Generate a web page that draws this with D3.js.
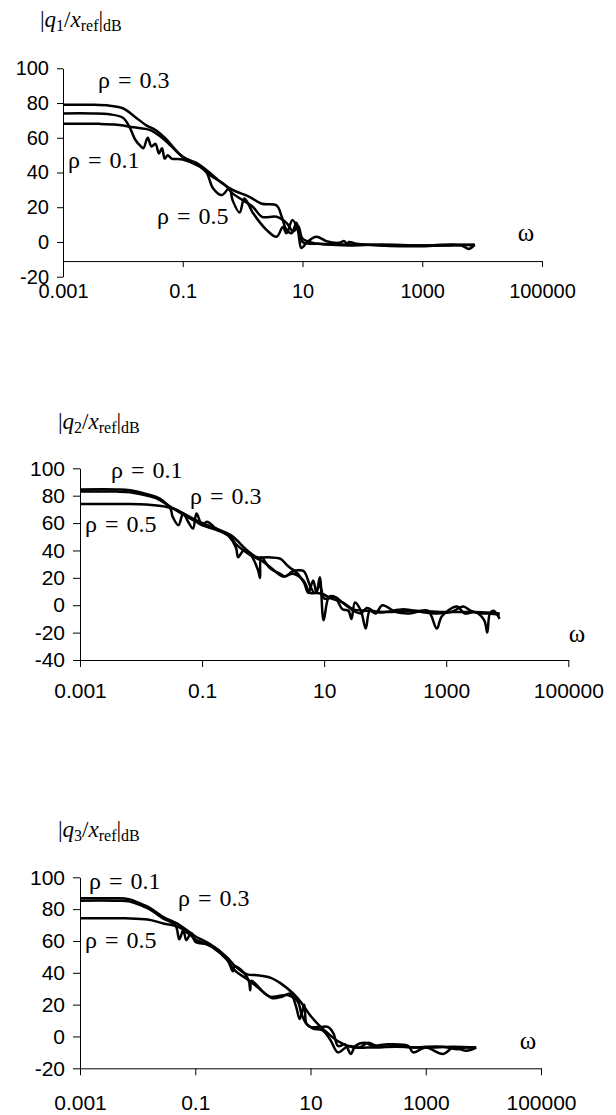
<!DOCTYPE html>
<html>
<head>
<meta charset="utf-8">
<script src="https://cdn.jsdelivr.net/npm/d3@7"></script>
<style>
  body { margin: 0; background: #fff; }
  svg { display: block; }
</style>
</head>
<body>
<div id="chart"></div>
<script>
// x axis ticks (omega, log scale) shared by the three panels
const omegaTicks = [0.001, 0.1, 10, 1000, 100000];
const omegaTickLabels = ['0.001', '0.1', '10', '1000', '100000'];
const dbTicks1 = [-20, 0, 20, 40, 60, 80, 100];
const dbTicks2 = [-40, -20, 0, 20, 40, 60, 80, 100];
const dbTicks3 = [-20, 0, 20, 40, 60, 80, 100];
const rhoLabels = ['ρ = 0.1', 'ρ = 0.3', 'ρ = 0.5'];

// |q1/xref| dB, pairs of [omega, dB]
const q1Rho01 = [[0.001,74],[0.003,74],[0.006,73.5],[0.01,71.5],[0.013,66],[0.016,59],[0.02,55],[0.022,54],[0.026,60],[0.03,55],[0.035,56.5],[0.04,51],[0.045,54],[0.05,48],[0.056,50],[0.065,48],[0.1,47.5],[0.19,43.5],[0.25,40],[0.32,31],[0.45,27],[0.6,31],[0.68,24],[0.89,17],[1.07,25],[1.5,16.5],[2.5,7],[3.7,3],[4.7,8.6],[5.4,5],[6.8,12.6],[8.3,7],[9.6,-3.5],[12,0],[17,3],[25,0.5],[40,-0.5],[50,0.5],[55,-1],[60,0],[80,-1],[200,-2],[1000,-2.5],[4500,-2],[6000,-4],[7500,-1.5]];
const q1Rho03 = [[0.001,79],[0.003,79],[0.006,78.5],[0.01,77],[0.016,72],[0.025,67],[0.035,64.5],[0.05,60],[0.1,49],[0.18,45],[0.28,40],[0.45,34],[0.68,30],[1.3,26],[2.1,22],[3.7,21],[4.5,14.5],[5.4,7],[6.6,5],[7.9,11],[8.9,5],[10,0],[13,-1],[20,-1],[50,-1.5],[100,-1.5],[300,-2],[1000,-2],[3000,-2],[7500,-1.5]];
const q1Rho05 = [[0.001,68],[0.004,68],[0.008,67.5],[0.015,66],[0.028,64.5],[0.045,60],[0.065,55],[0.1,49],[0.19,44],[0.3,38],[0.5,33],[0.68,28],[1.5,20],[2.1,14.5],[3.7,14.5],[5.4,11],[7,6],[8.5,9],[10,2],[15,-0.5],[25,-1.5],[60,-2],[200,-1.5],[1000,-2],[3000,-1.5],[7500,-2]];

// |q2/xref| dB
const q2Rho01 = [[0.001,84.6],[0.004,84.6],[0.0066,84],[0.014,80.5],[0.02,78],[0.03,72],[0.05,66],[0.08,61],[0.1,58.5],[0.17,55],[0.29,50],[0.37,44],[0.6,37],[0.9,33],[1.3,28],[2.1,21],[3.1,23],[4.6,18],[5.9,9],[7.7,9],[9.6,8],[13,5],[20,2],[30,-3],[50,-4],[100,-5],[300,-4],[1000,-5],[3000,-5],[7500,-6]];
const q2Rho03 = [[0.001,83],[0.004,83],[0.0066,82.5],[0.014,79.5],[0.02,77],[0.03,71],[0.033,64.6],[0.041,58.5],[0.049,67],[0.059,61],[0.071,56],[0.081,67],[0.1,58.5],[0.12,61],[0.17,56],[0.28,50],[0.36,42],[0.39,35],[0.48,40],[0.6,38],[0.82,26],[0.89,19.9],[0.93,35],[1.3,27],[1.9,23],[2.3,21],[3.2,25],[4.6,17],[5.5,9],[6.6,18],[7.5,9],[8.5,20.5],[9.8,-11],[12,6],[15,6],[20,-3],[25,-4],[28,-10],[32,2],[40,-4],[48,-17],[56,-4],[70,-6],[90,0],[150,-5],[250,-6],[500,-4],[700,-17],[850,-8],[1500,-1],[2000,-6],[3000,-5],[4200,-11],[4700,-20],[5200,-6],[6000,-4],[7500,-10]];
const q2Rho05 = [[0.001,73.9],[0.006,73.9],[0.012,73.5],[0.025,72],[0.035,70.5],[0.05,67],[0.08,62],[0.15,57],[0.3,51],[0.55,40],[0.8,35],[1.2,35],[1.9,34],[2.5,29],[3.2,25.6],[4.6,25],[5.9,14],[7,9],[8.5,14],[10,5],[12,5],[15,6],[20,2],[30,-4],[40,-6],[50,-2],[70,-5],[100,-5],[200,-3],[400,-5],[700,-6],[1200,-5],[1900,-1],[2500,-4],[3500,-6],[5000,-6],[7500,-7]];

// |q3/xref| dB
const q3Rho01 = [[0.001,86.8],[0.004,86.8],[0.007,86.3],[0.012,83],[0.016,81],[0.028,75],[0.048,71],[0.07,67],[0.1,63],[0.18,58],[0.35,50],[0.5,44],[0.8,39],[1.2,38.5],[2,37],[3,33.5],[5,27],[7,21],[10,13],[15,6],[20,2],[30,-3],[50,-6.5],[100,-7],[300,-6.5],[1000,-7],[3000,-6.5],[7500,-7]];
const q3Rho03 = [[0.001,85.3],[0.004,85.3],[0.007,85],[0.012,82],[0.016,80],[0.028,74],[0.045,70],[0.053,61],[0.062,67],[0.07,60.5],[0.085,65],[0.1,59.5],[0.18,57.5],[0.35,49],[0.45,41],[0.48,44],[0.7,40],[0.85,35],[0.9,29],[0.95,35],[1.6,27],[2.2,24],[3.2,25],[4.5,27],[5.6,19],[6.5,11],[7.8,20],[8.5,8],[10,6],[15,6],[20,6],[25,2],[30,-6],[40,-5],[50,-11],[60,-6],[90,-4],[120,-6],[200,-5],[500,-6],[600,-10],[1000,-7],[2000,-11],[3000,-7],[5000,-9],[7500,-7]];
const q3Rho05 = [[0.001,74.2],[0.006,74.2],[0.015,73.5],[0.028,71],[0.05,69],[0.08,64],[0.1,61],[0.2,56],[0.35,48.5],[0.5,41],[0.8,36],[1.3,30],[2,25],[2.8,25.5],[4,26],[6,22],[7,14],[8.5,8],[11,5],[16,4],[22,-2],[30,-10],[45,-6],[70,-7],[100,-4],[150,-6.5],[300,-6],[600,-7],[1000,-6.5],[2000,-6.5],[3600,-8],[5000,-7],[7500,-7]];

const width = 616, height = 1115;
const serif = '"Liberation Serif", "Times New Roman", Times, serif';
const sans = '"Liberation Sans", Arial, sans-serif';

const svg = d3.select('#chart')
  .append('svg')
    .attr('width', width)
    .attr('height', height)
    .attr('viewBox', `0 0 ${width} ${height}`);

const panels = [
  {
    sub: '1', series: [q1Rho01, q1Rho03, q1Rho05], dbTicks: dbTicks1,
    x0: 63, x1: 542, yTop: 68.3, yBot: 276.7, domain: [-20, 100], crossAt: -11,
    fs: 20, tick: 6, xLabelOff: 37, title: [40, 27], omega: [526, 241],
    rho: [[68, 168], [98, 88], [157, 224]]
  },
  {
    sub: '2', series: [q2Rho01, q2Rho03, q2Rho05], dbTicks: dbTicks2,
    x0: 80, x1: 568.3, yTop: 468.3, yBot: 660, domain: [-40, 100], crossAt: -40,
    fs: 21, tick: 7, xLabelOff: 38, title: [58, 429], omega: [577, 642],
    rho: [[111, 478], [190, 504], [85, 532]]
  },
  {
    sub: '3', series: [q3Rho01, q3Rho03, q3Rho05], dbTicks: dbTicks3,
    x0: 80, x1: 541, yTop: 877.3, yBot: 1068.3, domain: [-20, 100], crossAt: -20,
    fs: 21, tick: 7, xLabelOff: 42, title: [58, 837], omega: [528, 1049],
    rho: [[89, 889], [178, 906], [85, 948]]
  }
];

panels.forEach(p => {
  const x = d3.scaleLog()
    .domain([0.001, 100000])
    .range([p.x0, p.x1]);

  const y = d3.scaleLinear()
    .domain(p.domain)
    .range([p.yBot, p.yTop]);

  const g = svg.append('g');

  // y axis, plain hyphen for negatives like the original
  const yAxis = g.append('g')
    .attr('transform', `translate(${p.x0},0)`)
    .call(d3.axisLeft(y)
      .tickValues(p.dbTicks)
      .tickFormat(d => String(d))
      .tickSize(p.tick)
      .tickSizeOuter(0)
      .tickPadding(8));

  // x axis
  const xAxis = g.append('g')
    .attr('transform', `translate(0,${y(p.crossAt)})`)
    .call(d3.axisBottom(x)
      .tickValues(omegaTicks)
      .tickFormat((d, i) => omegaTickLabels[i])
      .tickSize(p.tick)
      .tickSizeOuter(0));

  [yAxis, xAxis].forEach(a => {
    a.select('.domain').attr('stroke', '#000').attr('stroke-width', 1);
    a.selectAll('.tick line').attr('stroke', '#000').attr('stroke-width', 1);
    a.selectAll('text')
      .attr('font-family', sans)
      .attr('font-size', p.fs)
      .attr('fill', '#000');
  });
  xAxis.selectAll('text').attr('dy', null).attr('y', p.xLabelOff);

  // curves
  const line = d3.line()
    .x(d => x(d[0]))
    .y(d => y(d[1]))
    .curve(d3.curveCatmullRom.alpha(0.5));

  g.selectAll('.curve')
    .data(p.series)
  .enter().append('path')
    .attr('class', 'curve')
    .attr('d', line)
    .attr('fill', 'none')
    .attr('stroke', '#000')
    .attr('stroke-width', 2.5)
    .attr('stroke-linejoin', 'round');

  // rho labels
  g.selectAll('.rho')
    .data(rhoLabels)
  .enter().append('text')
    .attr('class', 'rho')
    .attr('x', (d, i) => p.rho[i][0])
    .attr('y', (d, i) => p.rho[i][1])
    .attr('font-family', serif)
    .attr('font-size', 24)
    .attr('word-spacing', 2)
    .text(d => d);

  // omega label
  g.append('text')
    .attr('x', p.omega[0])
    .attr('y', p.omega[1])
    .attr('text-anchor', 'middle')
    .attr('font-family', serif)
    .attr('font-size', 25)
    .text('ω');

  // y title |q_i / x_ref|_dB
  const t = g.append('text')
    .attr('x', p.title[0])
    .attr('y', p.title[1])
    .attr('font-family', serif)
    .attr('font-size', 23);
  t.append('tspan').text('|');
  t.append('tspan').attr('font-style', 'italic').text('q');
  t.append('tspan').attr('font-size', 16).attr('dy', 4).text(p.sub);
  t.append('tspan').attr('dy', -4).text('/');
  t.append('tspan').attr('font-style', 'italic').text('x');
  t.append('tspan').attr('font-size', 16).attr('dy', 4).text('ref');
  t.append('tspan').attr('dy', -4).text('|');
  t.append('tspan').attr('font-size', 16).attr('dy', 4).text('dB');
});
</script>
</body>
</html>
